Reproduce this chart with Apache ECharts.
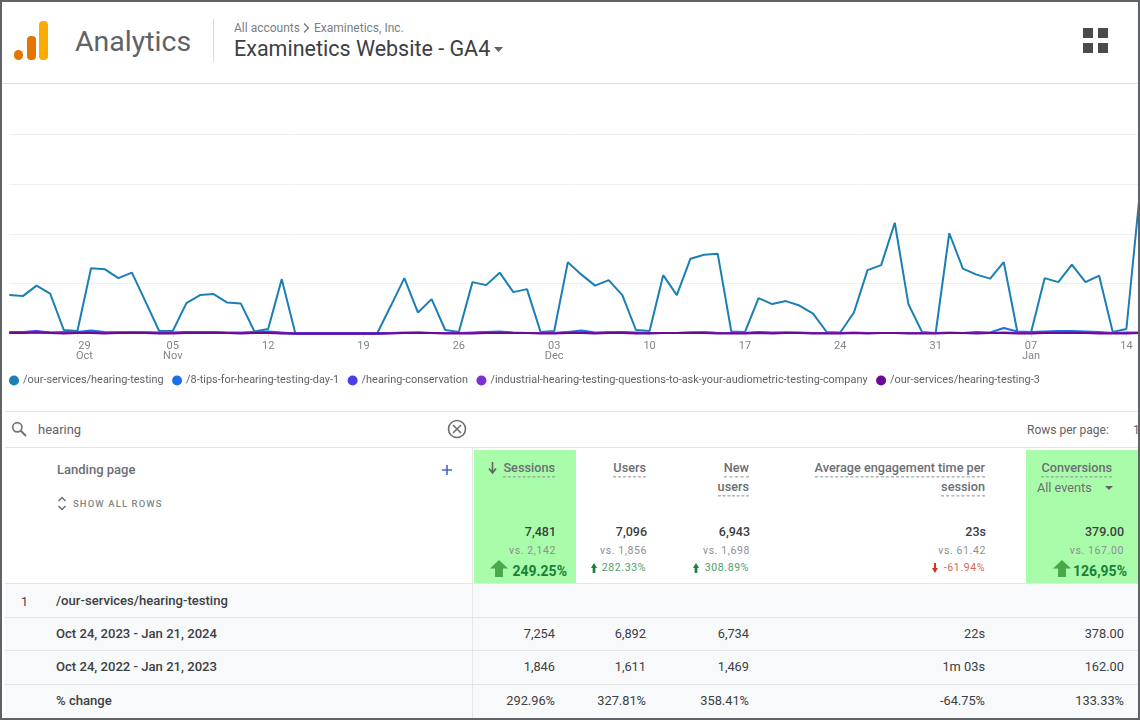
<!DOCTYPE html>
<html>
<head>
<meta charset="utf-8">
<title>Examinetics Website - GA4</title>
<script src="https://cdn.jsdelivr.net/npm/echarts@6/dist/echarts.min.js"></script>
<style>
  html, body { margin: 0; padding: 0; background: #fff; overflow: hidden; }
  #page { position: relative; width: 1140px; height: 720px; overflow: hidden; font-family: Roboto, sans-serif; color: #3c4043; }
  #main { position: absolute; left: 0; top: 84px; width: 1140px; height: 327px; }
  .t { position: absolute; white-space: nowrap; transform: translateY(-50%); line-height: 1.2; }
  .box { position: absolute; }
  .dot { border-bottom: 1px dashed #8b8f94; padding-bottom: 1px; }
  svg { position: absolute; overflow: visible; }
  #frame { position: absolute; left: 0; top: 0; width: 1136px; height: 716px; border: 2px solid #5f6368; z-index: 9; pointer-events: none; }
</style>
</head>
<body>
<div id="page">
  <div id="main"></div>
  <div id="frame"></div>
</div>
<script type="text/javascript">
// chart data
var monthLabels = {5: 'Oct', 12: 'Nov', 40: 'Dec', 75: 'Jan'};
var dayLabels = ['24','25','26','27','28','29','30','31',
  '01','02','03','04','05','06','07','08','09','10','11','12','13','14','15','16','17','18','19','20','21','22','23','24','25','26','27','28','29','30',
  '01','02','03','04','05','06','07','08','09','10','11','12','13','14','15','16','17','18','19','20','21','22','23','24','25','26','27','28','29','30','31',
  '01','02','03','04','05','06','07','08','09','10','11','12','13','14','15'];
var seriesNames = ['/our-services/hearing-testing', '/8-tips-for-hearing-testing-day-1', '/hearing-conservation',
  '/industrial-hearing-testing-questions-to-ask-your-audiometric-testing-company', '/our-services/hearing-testing-3'];
var seriesColors = ['#1a7fb5', '#1a6fe8', '#4a3ee8', '#7b2fd6', '#6a0a96'];
var hearingTesting = [77,75,96,80,7,5,131,129,
  111,122,64,5,5,61,77,79,62,60,4,9,109,0,0,0,0,0,0,0,55,111,42,69,7,3,103,97,122,83,
  89,3,5,143,118,96,107,77,7,5,117,77,150,158,160,4,3,71,59,65,56,40,3,2,42,127,137,222,59,3,1,
  201,130,118,110,143,3,2,111,103,138,103,116,3,9,285];
var eightTips = [3,3,3,2,3,3,6,3,
  2,3,2,2,2,3,3,3,2,2,3,4,2,0,0,0,0,0,0,0,1,2,2,1,1,1,2,3,4,2,
  1,1,1,3,6,2,3,3,2,1,1,1,2,2,1,1,1,3,2,2,2,1,1,1,2,1,1,1,1,1,1,
  2,1,3,2,11,4,3,4,5,5,4,3,1,2,2];
var conservation = [2,3,5,2,1,2,3,1,
  2,2,2,1,1,2,2,2,1,1,2,2,1,0,0,0,0,0,0,0,1,1,1,1,1,1,1,2,2,1,
  1,1,1,2,2,1,1,2,1,1,1,1,2,2,1,1,1,2,1,1,1,1,1,1,1,1,1,1,1,1,1,
  1,1,1,1,2,1,1,2,2,2,1,1,1,1,1];
var industrial = [1,2,3,1,1,1,2,1,
  2,1,2,1,1,2,1,2,1,1,1,1,1,0,0,0,0,0,0,0,1,1,2,1,1,1,1,2,2,1,
  1,1,1,1,2,1,1,1,1,1,1,1,1,2,1,1,1,1,1,2,1,1,1,1,1,1,1,1,1,1,1,
  1,1,1,1,1,1,1,1,1,2,1,1,1,1,1];
var hearing3 = [1,1,2,1,0,1,1,0,
  1,1,1,0,0,1,1,1,1,0,1,1,0,0,0,0,0,0,0,0,0,1,1,1,0,0,0,1,1,1,
  1,0,0,1,1,0,1,1,0,0,1,1,1,1,0,0,0,1,0,1,1,0,0,0,1,0,1,1,0,0,0,
  1,1,0,1,1,0,0,1,1,1,1,0,0,0,1];
var seriesValues = [hearingTesting, eightTips, conservation, industrial, hearing3];

// table data
var columnRight = [555, 646, 749, 985, 1124];
var totals = ['7,481', '7,096', '6,943', '23s', '379.00'];
var previous = ['vs. 2,142', 'vs. 1,856', 'vs. 1,698', 'vs. 61.42', 'vs. 167.00'];
var deltas = ['249.25%', '282.33%', '308.89%', '-61.94%', '126,95%'];
var rowLabels = ['Oct 24, 2023 - Jan 21, 2024', 'Oct 24, 2022 - Jan 21, 2023', '% change'];
var currentRow = ['7,254', '6,892', '6,734', '22s', '378.00'];
var previousRow = ['1,846', '1,611', '1,469', '1m 03s', '162.00'];
var changeRow = ['292.96%', '327.81%', '358.41%', '-64.75%', '133.33%'];

var page = document.getElementById('page');

function text(str, x, y, css, right) {
  var el = document.createElement('div');
  el.className = 't';
  el.textContent = str;
  el.style.cssText = (right ? 'right:' + (1140 - x) + 'px;' : 'left:' + x + 'px;') + 'top:' + y + 'px;' + (css || '');
  page.appendChild(el);
  return el;
}
function box(x, y, w, h, color, extra) {
  var el = document.createElement('div');
  el.className = 'box';
  el.style.cssText = 'left:' + x + 'px;top:' + y + 'px;width:' + w + 'px;height:' + h + 'px;background:' + color + ';' + (extra || '');
  page.appendChild(el);
}
function icon(x, y, w, h, inner) {
  var wrap = document.createElementNS('http://www.w3.org/2000/svg', 'svg');
  wrap.setAttribute('width', w);
  wrap.setAttribute('height', h);
  wrap.setAttribute('viewBox', '0 0 ' + w + ' ' + h);
  wrap.style.left = x + 'px';
  wrap.style.top = y + 'px';
  wrap.innerHTML = inner;
  page.appendChild(wrap);
}
function upArrow(x, y, w, h, color) {
  icon(x, y, w, h, '<path d="M0 ' + h * 0.5 + 'L' + w / 2 + ' 0L' + w + ' ' + h * 0.5 + 'H' + w * 0.72 + 'V' + h + 'H' + w * 0.28 + 'V' + h * 0.5 + 'Z" fill="' + color + '"/>');
}

// app bar
box(14, 50, 9, 10, '#e37400', 'border-radius:5px;');
box(27, 36, 9, 24, '#e37400', 'border-radius:4px;');
box(39, 21, 9, 39, '#f9ab00', 'border-radius:4px;');
text('Analytics', 75, 42, 'font-size:28.5px;color:#5f6368;');
box(213, 19, 1, 43, '#dadce0');
text('All accounts', 234, 27.5, 'font-size:12px;color:#7b7f85;');
icon(303, 23, 7, 10, '<path d="M1 0.5L5.5 5L1 9.5" fill="none" stroke="#6b6f75" stroke-width="1.2"/>');
text('Examinetics, Inc.', 314, 27.5, 'font-size:12px;color:#7b7f85;');
text('Examinetics Website - GA4', 234, 49, 'font-size:21.5px;color:#3c4043;');
icon(494, 47, 9, 5, '<path d="M0 0H9L4.5 5Z" fill="#5f6368"/>');
[[1083, 28], [1098, 28], [1083, 43], [1098, 43]].forEach(function (p) { box(p[0], p[1], 10, 10, '#4a4a4a'); });
box(2, 83, 1136, 1, '#dcdcdc');

// search bar
box(5, 411, 1133, 1, '#e6e6e6');
box(5, 447, 1133, 1, '#e6e6e6');
icon(11, 421, 16, 16, '<circle cx="6.3" cy="6.3" r="4.6" fill="none" stroke="#70757a" stroke-width="1.7"/><path d="M9.8 9.8L15 15" stroke="#70757a" stroke-width="2"/>');
text('hearing', 38, 430, 'font-size:13px;color:#5f6368;');
icon(447, 419, 20, 20, '<circle cx="10" cy="10" r="8.5" fill="none" stroke="#6b6f75" stroke-width="1.6"/><path d="M6 6L14 14M14 6L6 14" stroke="#6b6f75" stroke-width="1.6"/>');
text('Rows per page:', 1027, 430, 'font-size:12px;color:#5f6368;');
text('1', 1133, 430, 'font-size:12px;color:#5f6368;');

// table body rows
box(5, 583, 1133, 135, '#f8f9fa');
[583, 617, 650, 684].forEach(function (y) { box(5, y, 1133, 1, '#e4e5e7'); });
box(472, 448, 1, 270, '#e6e6e6');
box(474, 450, 102, 133, '#a9fca9');
box(1026, 450, 112, 133, '#a9fca9');

// table header
var headCss = 'font-size:12.7px;font-weight:500;color:#6b6f75;';
text('Landing page', 57, 470, 'font-size:13px;font-weight:500;color:#6b6f75;');
icon(441, 464, 12, 12, '<path d="M6 1V11M1 6H11" stroke="#4267d0" stroke-width="1.6"/>');
icon(57, 496, 10, 15, '<path d="M1.5 5L5 1.5L8.5 5M1.5 10L5 13.5L8.5 10" fill="none" stroke="#6b6f75" stroke-width="1.5"/>');
text('SHOW ALL ROWS', 73, 504, 'font-size:9.5px;font-weight:500;letter-spacing:1.1px;color:#80868b;');
icon(488, 462, 9, 12, '<path d="M4.5 0V10M1 6.5L4.5 11L8 6.5" fill="none" stroke="#5f6368" stroke-width="1.6"/>');
text('Sessions', 555, 469, headCss, true).classList.add('dot');
text('Users', 646, 469, headCss, true).classList.add('dot');
text('New', 749, 469, headCss, true).classList.add('dot');
text('users', 749, 488, headCss, true).classList.add('dot');
text('Average engagement time per', 985, 469, headCss, true).classList.add('dot');
text('session', 985, 488, headCss, true).classList.add('dot');
text('Conversions', 1112, 469, headCss, true).classList.add('dot');
text('All events', 1037, 488, 'font-size:12.7px;color:#6b6f75;');
icon(1105, 486, 8, 4, '<path d="M0 0H8L4 4Z" fill="#5f6368"/>');

// totals
columnRight.forEach(function (right, i) {
  var r = i == 4 ? 1124 : right + 1;
  text(totals[i], r, 531, 'font-size:12.5px;font-weight:500;color:#3c4043;', true);
  text(previous[i], r, 551, 'font-size:10.5px;letter-spacing:.6px;color:#8b8f94;', true);
});
text(deltas[0], 567, 570.5, 'font-size:14px;font-weight:700;color:#188038;', true);
upArrow(490, 560, 18, 17, '#4aa84a');
text(deltas[1], 646, 568, 'font-size:10.5px;letter-spacing:.6px;color:#4f9d69;', true);
upArrow(591, 563, 6, 10, '#188038');
text(deltas[2], 749, 568, 'font-size:10.5px;letter-spacing:.6px;color:#4f9d69;', true);
upArrow(693, 563, 6, 10, '#188038');
text(deltas[3], 985, 568, 'font-size:10.5px;letter-spacing:.6px;color:#d9655b;', true);
icon(932, 563, 6, 10, '<path d="M0 5L3 10L6 5H4V0H2V5Z" fill="#d93025"/>');
text(deltas[4], 1127, 570.5, 'font-size:14px;font-weight:700;color:#188038;', true);
upArrow(1053, 560, 18, 17, '#4aa84a');

// rows
var labelCss = 'font-size:13.1px;font-weight:500;color:#3c4043;';
var rowYs = [633.5, 666.5, 700.5];
text('1', 21, 600.5, 'font-size:12.5px;color:#3c4043;');
text(seriesNames[0], 56, 600.5, labelCss);
[currentRow, previousRow, changeRow].forEach(function (row, r) {
  text(rowLabels[r], 56, rowYs[r], labelCss);
  row.forEach(function (v, i) {
    text(v, columnRight[i], rowYs[r], 'font-size:12.8px;color:#3c4043;', true);
  });
});

// line chart
var myChart = echarts.init(document.getElementById('main'));
var labelIdx = function (i) { return i % 7 == 5; };
var option = {
  animation: false,
  color: seriesColors,
  legend: {
    data: seriesNames,
    left: 9, top: 291,
    padding: 0,
    icon: 'circle',
    itemWidth: 10, itemHeight: 10,
    itemGap: 8.5,
    selectedMode: false,
    textStyle: { fontFamily: 'Roboto', fontSize: 10.9, color: '#5f6368', padding: [0, 0, 0, -1] }
  },
  grid: { left: 9.3, right: -0.6, top: 50, height: 199.5 },
  xAxis: {
    type: 'category',
    boundaryGap: false,
    data: dayLabels,
    axisLine: { show: false },
    axisTick: { interval: function (i) { return labelIdx(i); }, length: 4, lineStyle: { color: '#e6e6e6' } },
    axisLabel: {
      interval: function (i) { return labelIdx(i); },
      margin: 7,
      fontFamily: 'Roboto', fontSize: 11, color: '#80868b', lineHeight: 10.5,
      formatter: function (v, i) {
        if (i == 5) return '{off|' + v + '\n' + monthLabels[i] + '}';
        return monthLabels[i] ? v + '\n' + monthLabels[i] : v;
      },
      rich: { off: { padding: [0, 0, 0, 14], fontFamily: 'Roboto', fontSize: 11, color: '#80868b', lineHeight: 10.5 } }
    }
  },
  yAxis: {
    type: 'value', min: 0, max: 400, interval: 100,
    axisLabel: { show: false },
    axisLine: { show: false },
    axisTick: { show: false },
    splitLine: { lineStyle: { color: '#f0f0f0' } }
  },
  series: seriesNames.map(function (name, i) {
    return {
      name: name,
      type: 'line',
      data: seriesValues[i],
      symbol: 'none',
      clip: false,
      lineStyle: { width: 2, color: seriesColors[i] },
      z: 2 + i
    };
  })
};
myChart.setOption(option);
</script>
</body>
</html>
